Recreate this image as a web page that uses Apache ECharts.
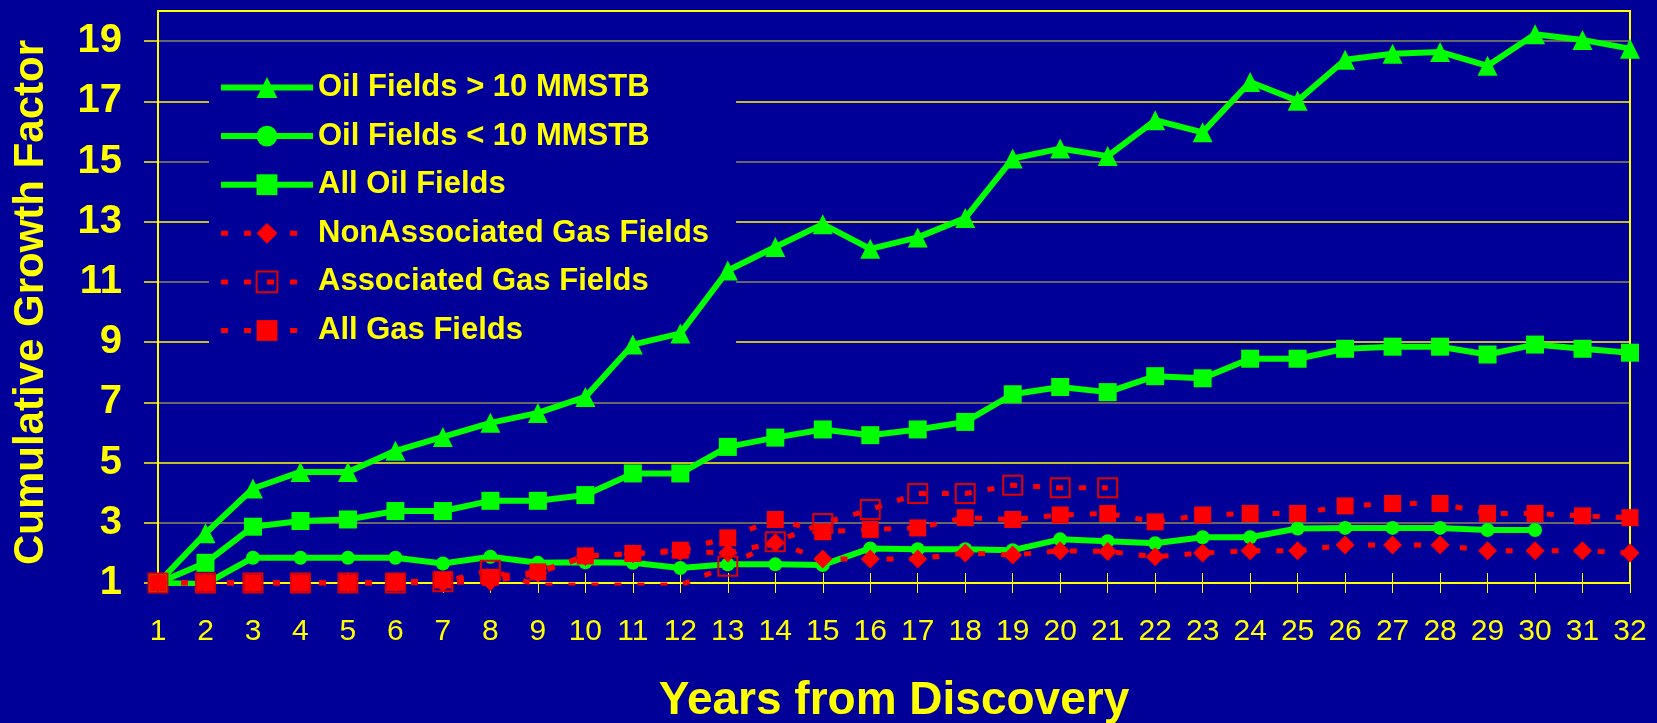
<!DOCTYPE html>
<html>
<head>
<meta charset="utf-8">
<title>Cumulative Growth Factor</title>
<script src="https://cdn.jsdelivr.net/npm/echarts@6/dist/echarts.min.js"></script>
<style>
html, body { margin: 0; padding: 0; background: #000099; }
#chart { width: 1657px; height: 723px; }
</style>
</head>
<body>
<div id="chart"></div>
<script>
// years since discovery (category axis)
var years = ['1','2','3','4','5','6','7','8','9','10','11','12','13','14','15','16',
	'17','18','19','20','21','22','23','24','25','26','27','28','29','30','31','32'];
var yTicks = [1, 3, 5, 7, 9, 11, 13, 15, 17, 19];

// values
var oilLarge = [1.0, 2.65, 4.14, 4.69, 4.69, 5.39, 5.85, 6.32, 6.65, 7.18, 8.92, 9.29, 11.38, 12.16, 12.92, 12.1,
	12.48, 13.12, 15.1, 15.43, 15.18, 16.37, 15.97, 17.64, 17.02, 18.38, 18.58, 18.64, 18.18, 19.23, 19.04, 18.75];
var oilSmall = [1.0, 0.97, 1.84, 1.84, 1.84, 1.84, 1.65, 1.87, 1.67, 1.69, 1.67, 1.5, 1.62, 1.62, 1.6, 2.15,
	2.12, 2.12, 2.09, 2.45, 2.39, 2.32, 2.52, 2.52, 2.81, 2.83, 2.83, 2.83, 2.76, 2.76, null, null];
var oilAll = [1.0, 1.67, 2.87, 3.06, 3.11, 3.39, 3.39, 3.73, 3.73, 3.92, 4.64, 4.64, 5.52, 5.83, 6.1, 5.91,
	6.1, 6.35, 7.27, 7.51, 7.34, 7.87, 7.8, 8.45, 8.45, 8.78, 8.85, 8.85, 8.59, 8.92, 8.78, 8.65];
var gasNonAssoc = [1.0, 1.0, 1.0, 1.0, 1.0, 1.0, 1.02, 1.05, 1.33, 1.88, 1.97, 2.05, 2.0, 2.34, 1.8, 1.8,
	1.8, 2.0, 1.93, 2.07, 2.05, 1.87, 2.0, 2.07, 2.07, 2.26, 2.26, 2.26, 2.07, 2.07, 2.07, 2.0];
var gasAssoc = [1.0, 1.0, 1.0, 1.0, 1.0, 1.0, 1.04, 1.42, 0.93, 0.93, 0.93, 0.93, 1.56, 2.37, 2.98, 3.44,
	3.97, 3.97, 4.25, 4.16, 4.16, null, null, null, null, null, null, null, null, null, null, null];
var gasAll = [1.0, 1.0, 1.0, 1.0, 1.0, 1.02, 1.1, 1.19, 1.37, 1.9, 1.98, 2.09, 2.5, 3.11, 2.7, 2.78,
	2.83, 3.17, 3.11, 3.26, 3.31, 3.03, 3.26, 3.31, 3.31, 3.56, 3.64, 3.64, 3.31, 3.31, 3.23, 3.17];

var seriesNames = ['Oil Fields > 10 MMSTB', 'Oil Fields < 10 MMSTB', 'All Oil Fields',
	'NonAssociated Gas Fields', 'Associated Gas Fields', 'All Gas Fields'];

var font = "'Liberation Sans', Arial, sans-serif";
var yellow = '#ffff00';
var green = '#00ff00';
var red = '#ff0000';

function greenLine(name, data, symbol, size) {
	return {
		name: name,
		type: 'line',
		data: data,
		symbol: symbol,
		symbolSize: size,
		showAllSymbol: true,
		itemStyle: { color: green },
		lineStyle: { color: green, width: 6 },
		emphasis: { disabled: true }
	};
}

function redLine(name, data, symbol, size, itemStyle) {
	return {
		name: name,
		type: 'line',
		data: data,
		symbol: symbol,
		symbolSize: size,
		showAllSymbol: true,
		itemStyle: itemStyle,
		lineStyle: { color: red, width: 5, type: [7, 16] },
		emphasis: { disabled: true }
	};
}

// legend entries: green ones get the thick solid line, red ones the dotted one
var legendData = seriesNames.map(function (name, i) {
	return { name: name, lineStyle: { width: i < 3 ? 6 : 5 } };
});

var chart = echarts.init(document.getElementById('chart'));

var option = {
	backgroundColor: '#000099',
	animation: false,
	// fixed plot box, no automatic shrinking for the axis names
	grid: { left: 158, right: 27, top: 11, bottom: 140, containLabel: false, outerBoundsMode: 'none' },
	legend: {
		orient: 'vertical',
		left: 209,
		top: 60,
		z: 1,
		backgroundColor: '#000099',
		padding: [12, 27, 12, 9],
		itemWidth: 92,
		itemHeight: 26,
		itemGap: 17.6,
		selectedMode: false,
		textStyle: { color: yellow, fontSize: 31, fontWeight: 'bold', fontFamily: font, lineHeight: 31 },
		data: legendData
	},
	xAxis: [{
		type: 'category',
		data: years,
		boundaryGap: false,
		position: 'bottom',
		axisLine: { onZero: false, lineStyle: { color: yellow, width: 2 } },
		axisTick: { show: true, length: 10, alignWithLabel: true, lineStyle: { color: yellow } },
		axisLabel: { color: yellow, fontSize: 30, fontFamily: font, margin: 34, interval: 0 },
		splitLine: { show: false },
		name: 'Years from Discovery',
		nameLocation: 'middle',
		nameGap: 95,
		nameTextStyle: { color: yellow, fontSize: 46, fontWeight: 'bold', fontFamily: font }
	}, {
		// top border of the plot
		type: 'category',
		data: years,
		boundaryGap: false,
		position: 'top',
		axisLine: { onZero: false, lineStyle: { color: yellow, width: 2 } },
		axisTick: { show: false },
		axisLabel: { show: false }
	}, {
		// tick marks pointing up into the plot
		type: 'category',
		data: years,
		boundaryGap: false,
		position: 'bottom',
		axisLine: { show: false, onZero: false },
		axisTick: { show: true, inside: true, length: 10, lineStyle: { color: yellow } },
		axisLabel: { show: false }
	}],
	yAxis: [{
		type: 'value',
		min: 1,
		max: 20,
		interval: 2,
		position: 'left',
		axisLine: { show: true, lineStyle: { color: yellow, width: 2 } },
		axisTick: { show: true, length: 14, customValues: yTicks, lineStyle: { color: yellow, width: 1.5 } },
		axisLabel: { customValues: yTicks, color: yellow, fontSize: 40, fontWeight: 'bold', fontFamily: font, margin: 36 },
		splitLine: { show: true, lineStyle: { color: [yellow, '#8a8a5a'], width: 1.5 } },
		name: 'Cumulative Growth Factor',
		nameLocation: 'middle',
		nameGap: 106,
		// right padding nudges the rotated title a little lower
		nameTextStyle: { color: yellow, fontSize: 42, fontWeight: 'bold', fontFamily: font, padding: [0, 11, 0, 0] }
	}, {
		// right border of the plot
		type: 'value',
		min: 1,
		max: 20,
		position: 'right',
		axisLine: { show: true, lineStyle: { color: yellow, width: 2 } },
		axisTick: { show: false },
		axisLabel: { show: false },
		splitLine: { show: false }
	}],
	series: [
		greenLine(seriesNames[0], oilLarge, 'triangle', 20),
		greenLine(seriesNames[1], oilSmall, 'circle', 14),
		greenLine(seriesNames[2], oilAll, 'rect', 18),
		redLine(seriesNames[3], gasNonAssoc, 'diamond', 19, { color: red }),
		redLine(seriesNames[4], gasAssoc, 'rect', 19, { color: 'transparent', borderColor: '#e00000', borderWidth: 2 }),
		redLine(seriesNames[5], gasAll, 'rect', 17, { color: red })
	]
};

chart.setOption(option);
</script>
</body>
</html>
